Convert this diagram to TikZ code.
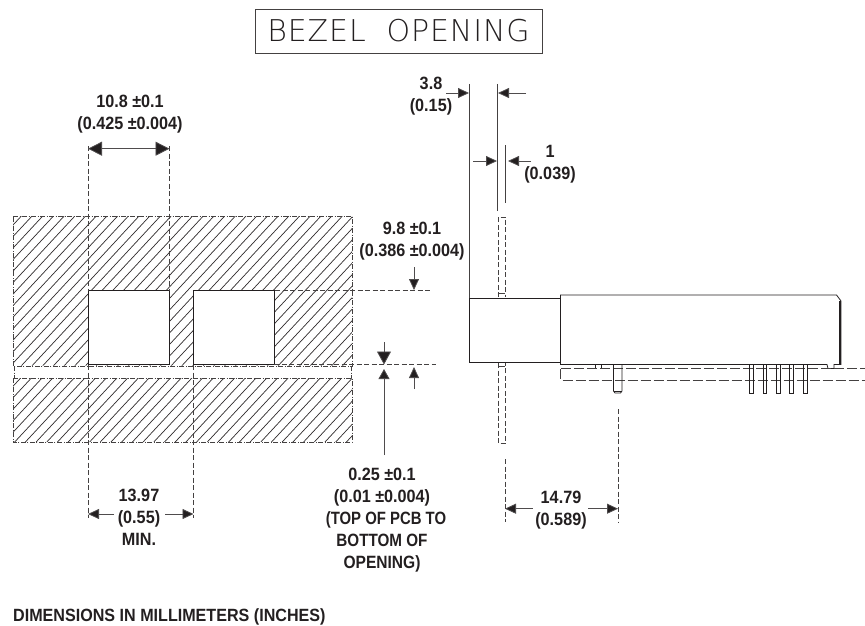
\documentclass[tikz,border=0pt]{standalone}
\usepackage{fontspec}
\usepackage{graphicx}
\setmainfont{Liberation Sans}[FakeStretch=0.91]
\newfontfamily\bezelfont{DejaVu Sans ExtraLight}[FakeStretch=1.0,LetterSpace=3]
\usetikzlibrary{arrows.meta}
\definecolor{ink}{HTML}{231F20}
\tikzset{
  dimtext/.style={font=\fontsize{17.8}{22}\selectfont\bfseries,align=center,text=ink,inner sep=0pt},
  solidln/.style={draw=ink,line width=0.8pt},
  thinln/.style={draw=ink!85,line width=0.7pt},
  dashln/.style={draw=ink!85,line width=0.6pt,dash pattern=on 5pt off 2.5pt},
  longdash/.style={draw=ink!85,line width=0.7pt,dash pattern=on 10pt off 3pt},
  dashdot/.style={draw=ink!85,line width=0.6pt,dash pattern=on 5pt off 1.5pt on 1pt off 1.5pt},
  hatchln/.style={draw=ink!95,line width=0.7pt},
  smallarr/.style={draw=ink!80,line width=0.8pt,-{Triangle[length=11pt,width=10pt,fill=ink]}},
  medarr/.style={draw=ink!80,line width=0.8pt,{Triangle[length=14pt,width=14pt,fill=ink]}-{Triangle[length=14pt,width=14pt,fill=ink]}},
  bigarr/.style={draw=ink!80,line width=0.8pt,-{Triangle[length=13pt,width=14pt,fill=ink]}},
  uparr/.style={draw=ink!80,line width=0.8pt,-{Triangle[length=10pt,width=11pt,fill=ink]}},
}
\begin{document}
\begin{tikzpicture}[x=1pt,y=-1pt]
\useasboundingbox (0,0) rectangle (865,626);
% title
\node[draw=ink!85,line width=0.7pt,minimum width=287pt,minimum height=44pt,inner sep=0pt,font=\bezelfont\fontsize{30}{30}\selectfont,text=ink] (title) at (398.5,31) {BEZEL\ \ OPENING};
% hatch upper and lower bands
\begin{scope}
\clip (13,216) rectangle (352,365.5) (13,378) rectangle (352,442);
\foreach \i in {0,...,60} { \draw[hatchln] ({\i*10.7-210},442) -- ({\i*10.7-210+210},216); }
\end{scope}
\draw[dashdot] (13,216) -- (352,216) -- (352,366) -- (13,366) -- cycle;
\draw[dashdot] (13,378) -- (352,378) -- (352,442) -- (13,442) -- cycle;
\draw[dashdot] (14,366) -- (14,378) (351,366) -- (351,378);
% openings
\draw[solidln,fill=white] (88,290.5) rectangle (169.5,364.5);
\draw[solidln,fill=white] (193.5,290.5) rectangle (274.5,364.5);
% extension lines left
\coordinate (a1) at (88,146); \coordinate (a2) at (169.5,146);
\draw[dashln] (a1) -- (88,290.5) (a2) -- (169.5,290.5);
\draw[dashln] (88,365) -- (88,518) (193.5,365) -- (193.5,518);
\draw[dashln] (275,290.5) -- (432,290.5);
\draw[dashln] (274,364.5) -- (436,364.5);
\draw[medarr] (88,148.7) -- (169.5,148.7);
\node[dimtext] (t108) at (130,114.5) {10.8 ±0.1\\(0.425 ±0.004)};
\node[dimtext] (t98) at (412,241) {9.8 ±0.1\\(0.386 ±0.004)};
\coordinate (d1s) at (414,267); \coordinate (d1e) at (414,290);
\draw[smallarr] (d1s) -- (d1e);
\coordinate (d2s) at (384,342); \coordinate (d2e) at (384,364.5);
\draw[bigarr] (d2s) -- (d2e);
\coordinate (d3s) at (384,455); \coordinate (d3e) at (384,369);
\draw[uparr] (d3s) -- (d3e);
\coordinate (d4s) at (414,389); \coordinate (d4e) at (414,367);
\draw[smallarr] (d4s) -- (d4e);
\node[dimtext] (t025) at (382,520.5) {0.25 ±0.1\\(0.01 ±0.004)\\\hspace*{8pt}\scalebox{0.92}[1]{(TOP OF PCB TO}\\\scalebox{0.94}[1]{BOTTOM OF}\\\scalebox{0.96}[1]{OPENING)}};
\node[dimtext] (t1397) at (139,517) {13.97\\(0.55)\\MIN.};
\coordinate (e1) at (114,514); \coordinate (e2) at (88,514);
\coordinate (e3) at (165,514); \coordinate (e4) at (193.5,514);
\draw[smallarr] (e1) -- (e2);
\draw[smallarr] (e3) -- (e4);
\node[dimtext,anchor=west,font=\fontsize{17.7}{18}\selectfont\bfseries] (dimnote) at (13,617) {DIMENSIONS IN MILLIMETERS (INCHES)};
% side view: panel
\draw[dashln] (498,363) -- (498,443) -- (505.5,443) -- (505.5,363);
\draw[dashln] (498,297) -- (498,217) -- (505.5,217) -- (505.5,297);
\draw[thinln] (497.7,293) -- (505,293) (498,366) -- (505,366);
% extension lines top
\draw[thinln] (469,84) -- (469,298);
\draw[thinln] (497.7,84) -- (497.7,211);
\draw[thinln] (505,145) -- (505,203);
\coordinate (f1) at (446,93); \coordinate (f2) at (469,93);
\coordinate (f3) at (526,93); \coordinate (f4) at (498,93);
\draw[smallarr] (f1) -- (f2);
\draw[smallarr] (f3) -- (f4);
\coordinate (g1) at (473,161); \coordinate (g2) at (497,161);
\coordinate (g3) at (531,161); \coordinate (g4) at (508,161);
\draw[smallarr] (g1) -- (g2);
\draw[smallarr] (g3) -- (g4);
\node[dimtext] (t38) at (431,96) {3.8\\(0.15)};
\node[dimtext] (t1) at (550,164) {1\\(0.039)};
% connector body
\draw[solidln,fill=white] (469,298) rectangle (560.5,362);
\draw[solidln,fill=white] (560.5,295) -- (836.5,295) -- (841,301) -- (841,364.5) -- (834,364.5) -- (834,368.5) -- (828,368.5) -- (827,364.5) -- (560.5,364.5) -- cycle;
\draw[draw=ink,line width=1.6pt] (840,301) -- (840,364);
\draw[solidln] (595,364.5) -- (595,368.5) (601,364.5) -- (601,368.5);
% PCB
\draw[longdash] (561,368.5) -- (865,368.5);
\draw[longdash] (560.5,369) -- (560.5,380) -- (865,380);
% posts
\draw[solidln] (613.5,364.5) -- (613.5,391) -- (615,393) -- (620.5,393) -- (622,391) -- (622,364.5);
\draw[solidln] (614,391) -- (621.5,391);
\foreach \xa/\xb in {749.5/753.5,763/766.7,776.3/780.3,789.3/793.3,803/807} {
  \draw[solidln] (\xa,364.5) -- (\xa,393) -- (\xb,393) -- (\xb,364.5);
}
% lower dimension
\draw[dashln] (505,459) -- (505,522);
\draw[dashln] (618,409) -- (618,522);
\coordinate (h1) at (532.7,508.7); \coordinate (h2) at (505,508.7);
\coordinate (h3) at (588,508.7); \coordinate (h4) at (618,508.7);
\draw[smallarr] (h1) -- (h2);
\draw[smallarr] (h3) -- (h4);
\node[dimtext] (t1479) at (561,510) {14.79\\(0.589)};
\end{tikzpicture}
\end{document}
